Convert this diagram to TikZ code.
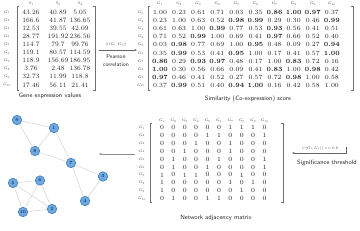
\documentclass[tikz,border=0pt]{standalone}
\usetikzlibrary{arrows.meta}
\definecolor{nodefill}{HTML}{6FA8DC}
\definecolor{nodeline}{HTML}{3F7FBF}
\definecolor{edgecol}{HTML}{D8D8D8}
\definecolor{brk}{HTML}{707070}
\begin{document}
\begin{tikzpicture}[x=1pt,y=-1pt,
  gnum/.style={font=\fontsize{6.6}{6.6}\selectfont, inner sep=0pt, text=black!85},
  snum/.style={font=\fontsize{6.4}{6.4}\selectfont, inner sep=0pt, text=black!85},
  anum/.style={font=\fontsize{6.4}{6.4}\selectfont, inner sep=0pt, text=black!85},
  hdr/.style={font=\fontsize{7}{7}\selectfont, scale=0.55, inner sep=0pt, text=black!75},
  capt/.style={font=\sffamily\fontsize{6.2}{6.2}\selectfont, inner sep=0pt, text=black!85},
  small/.style={font=\fontsize{7}{7}\selectfont, scale=0.55, inner sep=0pt, text=black!75},
  bracket/.style={draw=brk, line width=0.5pt},
  conn/.style={draw=black!60, line width=0.5pt, -{Stealth[length=2.5pt,width=2pt]}},
  gnode/.style={circle, fill=nodefill, draw=nodeline, line width=0.6pt, minimum size=9.5pt, inner sep=0pt, font=\fontsize{4.5}{4.5}\selectfont, text=blue!30!black},
  edge/.style={draw=edgecol, line width=0.6pt}]
\useasboundingbox (0,0) rectangle (360,231);

% ---------------- gene expression matrix
\foreach \c/\x in {1/31,2/58,3/80} \node[hdr] (sh-\c) at (\x,3.5) {$S_{\c}$};
\foreach \r/\a/\b/\cc in {1/43.26/40.89/5.05, 2/166.6/41.87/136.65, 3/12.53/39.55/42.09,
  4/28.77/191.92/236.56, 5/114.7/79.7/99.76, 6/119.1/80.57/114.59, 7/118.9/156.69/186.95,
  8/3.76/2.48/136.78, 9/32.73/11.99/118.8, 10/17.46/56.11/21.41} {
  \node[hdr] (gr-\r) at (7,{12+(\r-1)*8.1}) {$G_{\r}$};
  \node[gnum] (e-\r-1) at (31,{12+(\r-1)*8.1}) {\a};
  \node[gnum] (e-\r-2) at (58,{12+(\r-1)*8.1}) {\b};
  \node[gnum] (e-\r-3) at (80,{12+(\r-1)*8.1}) {\cc};
}
\draw[bracket] (19,6) -- (17,6) -- (17,90) -- (19,90);
\draw[bracket] (93,6) -- (95,6) -- (95,90) -- (93,90);
\node[capt] (gcap) at (50,96) {Gene expression values};

% ---------------- Pearson arrow
\coordinate (pa) at (99,50);
\coordinate (pb) at (137,50);
\draw[conn] (pa) -- (pb);
\node[small] (plab) at (116,44.5) {$|r(G_i,G_j)|$};
\node[capt, align=center, font=\sffamily\fontsize{5.6}{8}\selectfont] (pcap) at (116,61) {Pearson\\correlation};

% ---------------- similarity matrix
\foreach \c in {1,...,10} \node[hdr] (ch-\c) at ({160+(\c-1)*19.1},3.5) {$G_{\c}$};
\foreach \r/\vals in {
 1/{1.00,0.23,0.61,0.71,0.03,0.35,\textbf{0.86},\textbf{1.00},\textbf{0.97},0.37},
 2/{0.23,1.00,0.63,0.52,\textbf{0.98},\textbf{0.99},0.29,0.30,0.46,\textbf{0.99}},
 3/{0.61,0.63,1.00,\textbf{0.99},0.77,0.53,\textbf{0.93},0.56,0.41,0.51},
 4/{0.71,0.52,\textbf{0.99},1.00,0.69,0.41,\textbf{0.97},0.66,0.52,0.40},
 5/{0.03,\textbf{0.98},0.77,0.69,1.00,\textbf{0.95},0.48,0.09,0.27,\textbf{0.94}},
 6/{0.35,\textbf{0.99},0.53,0.41,\textbf{0.95},1.00,0.17,0.41,0.57,\textbf{1.00}},
 7/{\textbf{0.86},0.29,\textbf{0.93},\textbf{0.97},0.48,0.17,1.00,\textbf{0.83},0.72,0.16},
 8/{\textbf{1.00},0.30,0.56,0.66,0.09,0.41,\textbf{0.83},1.00,\textbf{0.98},0.42},
 9/{\textbf{0.97},0.46,0.41,0.52,0.27,0.57,0.72,\textbf{0.98},1.00,0.58},
 10/{0.37,\textbf{0.99},0.51,0.40,\textbf{0.94},\textbf{1.00},0.16,0.42,0.58,1.00}} {
  \node[hdr] (sr-\r) at (141,{12.5+(\r-1)*8.1}) {$G_{\r}$};
  \foreach \v [count=\c] in \vals
    \node[snum] (s-\r-\c) at ({160+(\c-1)*19.1},{12.5+(\r-1)*8.1}) {\v};
}
\draw[bracket] (150,6) -- (148,6) -- (148,90) -- (150,90);
\draw[bracket] (351,6) -- (353,6) -- (353,90) -- (351,90);
\node[capt] (scap) at (248,99) {Similarity (Co-expression) score};

% ---------------- threshold arrow
\coordinate (tb) at (346,147);
\coordinate (tc) at (346,153);
\coordinate (ta) at (292,153);
\draw[conn] (tb) -- (tc) -- (ta);
\node[small] (tlab) at (320,148.5) {$|r(G_i,G_j)|>=0.8$};
\node[capt] (tcap) at (327,162.5) {Significance threshold};

% ---------------- adjacency matrix
\foreach \c in {1,...,10} \node[hdr] (ah-\c) at ({162+(\c-1)*11.4},120.5) {$G_{\c}$};
\foreach \r/\vals in {
 1/{0,0,0,0,0,0,1,1,1,0},
 2/{0,0,0,0,1,1,0,0,0,1},
 3/{0,0,0,1,0,0,1,0,0,0},
 4/{0,0,1,0,0,0,1,0,0,0},
 5/{0,1,0,0,0,1,0,0,0,1},
 6/{0,1,0,0,1,0,0,0,0,1},
 7/{1,0,1,1,0,0,0,1,0,0},
 8/{1,0,0,0,0,0,1,0,1,0},
 9/{1,0,0,0,0,0,0,1,0,0},
 10/{0,1,0,0,1,1,0,0,0,0}} {
  \node[hdr] (ar-\r) at (142,{127.5+(\r-1)*7.9}) {$G_{\r}$};
  \foreach \v [count=\c] in \vals
    \node[anum] (a-\r-\c) at ({162+(\c-1)*11.4},{127.5+(\r-1)*7.9}) {\v};
}
\draw[bracket] (152,123) -- (150,123) -- (150,202) -- (152,202);
\draw[bracket] (281,123) -- (283,123) -- (283,202) -- (281,202);
\node[capt] (acap) at (216,218) {Network adjacency matrix};

% ---------------- arrow to network
\coordinate (na) at (135,154);
\coordinate (nb) at (99,154);
\draw[conn, draw=black!45] (na) -- (nb);

% ---------------- network
\node[gnode] (n9) at (17,120) {9};
\node[gnode] (n1) at (54,128) {1};
\node[gnode] (n8) at (35,151) {8};
\node[gnode] (n7) at (71,163) {7};
\node[gnode] (n3) at (103,176.5) {3};
\node[gnode] (n4) at (85,201) {4};
\node[gnode] (n5) at (13,183) {5};
\node[gnode] (n6) at (40,180.5) {6};
\node[gnode] (n2) at (52,209) {2};
\node[gnode] (n10) at (23,212) {10};
\foreach \a/\b in {1/7,1/8,1/9,2/5,2/6,2/10,3/4,3/7,4/7,5/6,5/10,6/10,7/8,8/9}
  \draw[edge] (n\a) -- (n\b);
\end{tikzpicture}
\end{document}
